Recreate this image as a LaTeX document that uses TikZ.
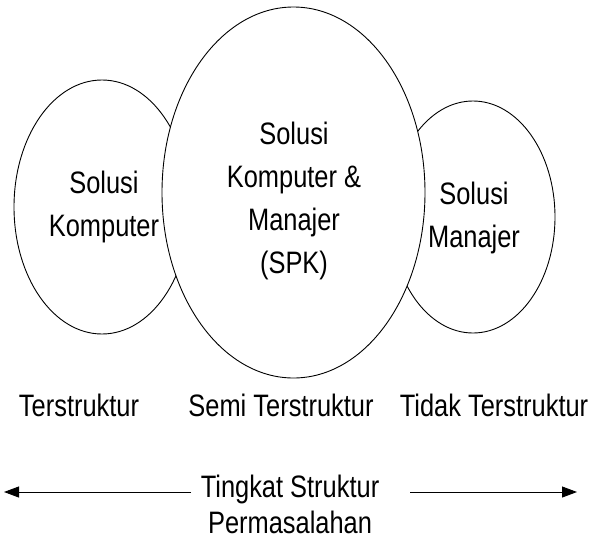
\documentclass[tikz,border=0pt]{standalone}
\usepackage{fontspec}
\setmainfont{Liberation Sans}[FakeStretch=0.82]
\usetikzlibrary{shapes.geometric,arrows.meta}

\tikzset{
  blob/.style={ellipse, draw=black, line width=0.9pt, fill=white, inner sep=0pt},
  txt/.style={font=\fontsize{31}{43}\selectfont, align=center, inner sep=0pt},
  axis/.style={line width=0.9pt, -{Triangle[length=15pt,width=11pt]}}
}

\begin{document}
\begin{tikzpicture}[x=1pt,y=-1pt]
\useasboundingbox (0,0) rectangle (608,541);

% the three solution regions; the middle one overlaps the others
\node[blob, minimum width=176pt, minimum height=254pt] (comp) at (102,207) {};
\node[blob, minimum width=164pt, minimum height=232pt] (mgr) at (473,217) {};
\node[blob, minimum width=263pt, minimum height=371pt] (spk) at (293.5,192.5) {};

\node[txt] (tcomp) at (104,207) {Solusi\\Komputer};
\node[txt] (tspk) at (294,201) {Solusi\\Komputer \&\\Manajer\\(SPK)};
\node[txt] (tmgr) at (474,218) {Solusi\\Manajer};

% structure categories
\node[txt, anchor=base] (s1) at (79,416) {Terstruktur};
\node[txt, anchor=base] (s2) at (281,416) {Semi Terstruktur};
\node[txt, anchor=base] (s3) at (494,416) {Tidak Terstruktur};

% axis of problem structure level
\node[txt, anchor=base, font=\fontsize{31}{36}\selectfont] (lvl) at (290,533) {Tingkat Struktur\\Permasalahan};
\coordinate (la) at (191,492);
\coordinate (lt) at (4,492);
\coordinate (ra) at (410,492);
\coordinate (rt) at (577,492);
\draw[axis] (la) -- (lt);
\draw[axis] (ra) -- (rt);
\end{tikzpicture}
\end{document}
